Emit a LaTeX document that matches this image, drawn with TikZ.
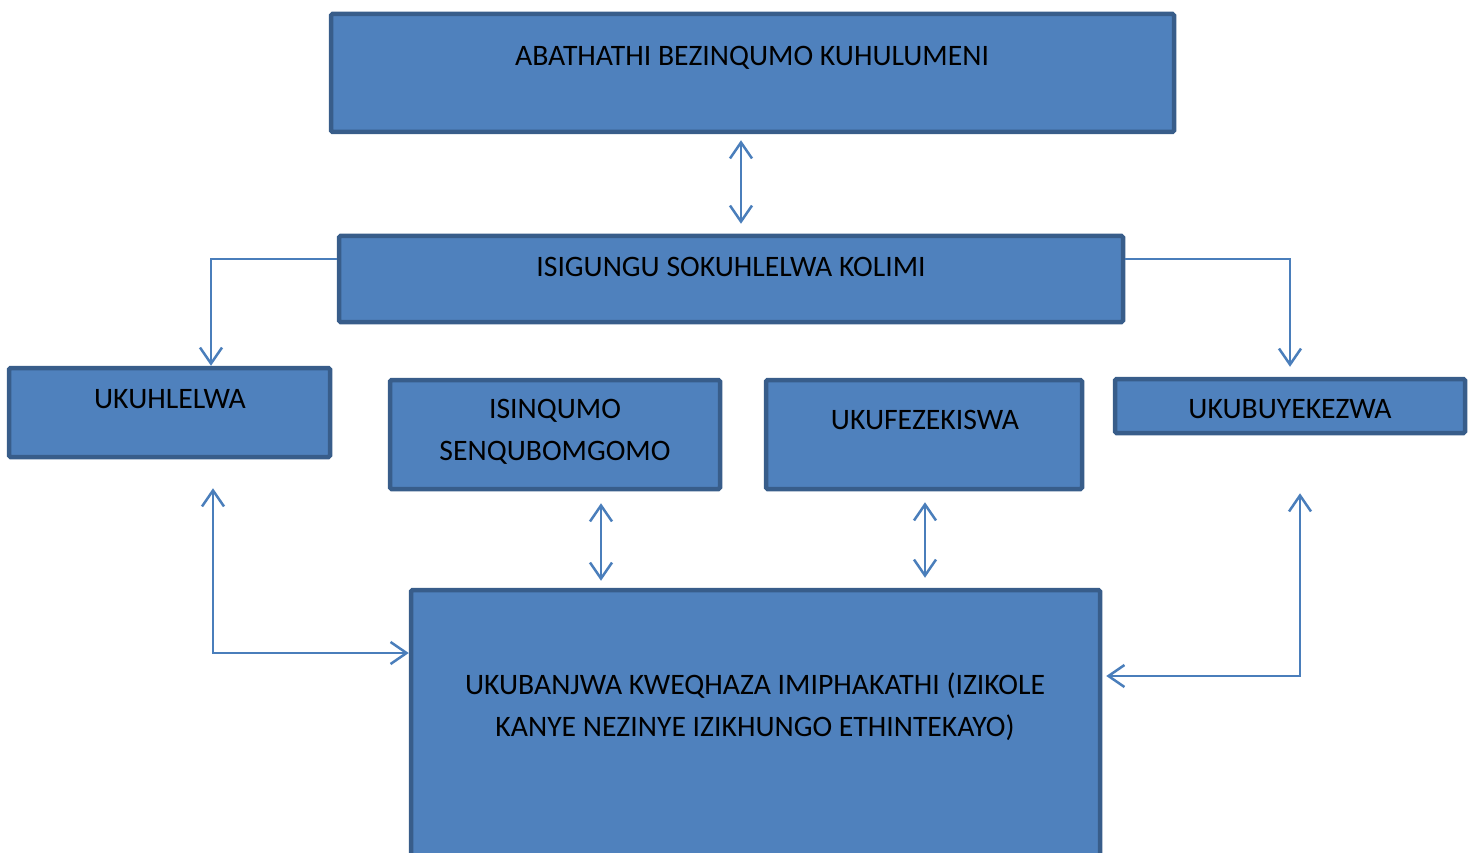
\documentclass[tikz,border=0pt]{standalone}
\usepackage{fontspec}
\setmainfont{Carlito}
\usetikzlibrary{arrows.meta,calc}
\definecolor{boxfill}{RGB}{79,129,189}
\definecolor{boxdraw}{RGB}{56,93,138}
\definecolor{linecol}{RGB}{74,126,187}
\tikzset{
  box/.style={draw=boxdraw,fill=boxfill,line width=4.5pt,rounded corners=1.5pt,inner sep=0pt},
  lbl/.style={font=\fontsize{29.7}{42}\selectfont,text=black,align=center,inner sep=0pt},
  conn/.style={draw=linecol,line width=2.5pt,
    arrows={->[/tikz/fill=none]},
    >={Straight Barb[length=16pt,width=22pt,line width=2.5pt]}},
  twoway/.style={conn,<->},
}
\begin{document}
\begin{tikzpicture}[x=1pt,y=-1pt]
\useasboundingbox (0,0) rectangle (1475,853);
\clip (0,0) rectangle (1475,853);
% boxes
\node[box,minimum width=843pt,minimum height=118pt] (top) at (752.5,73) {};
\node[box,minimum width=784pt,minimum height=86pt] (mid) at (731,279) {};
\node[box,minimum width=321pt,minimum height=89pt] (ukuh) at (169.5,412.5) {};
\node[box,minimum width=330pt,minimum height=109pt] (isin) at (555,434.5) {};
\node[box,minimum width=316pt,minimum height=109pt] (ukuf) at (924,434.5) {};
\node[box,minimum width=350pt,minimum height=54pt] (ukub) at (1290,406) {};
\node[box,minimum width=689pt,minimum height=310pt] (bot) at (755.5,745) {};
% labels
\node[lbl] (topt) at (752,58) {ABATHATHI BEZINQUMO KUHULUMENI};
\node[lbl] (midt) at (731,267) {ISIGUNGU SOKUHLELWA KOLIMI};
\node[lbl] (ukuht) at (170,399) {UKUHLELWA};
\node[lbl] (isint) at (555,432) {ISINQUMO\\SENQUBOMGOMO};
\node[lbl] (ukuft) at (925,420) {UKUFEZEKISWA};
\node[lbl] (ukubt) at (1290,409) {UKUBUYEKEZWA};
\node[lbl] (bott) at (755,707) {UKUBANJWA KWEQHAZA IMIPHAKATHI (IZIKOLE\\KANYE NEZINYE IZIKHUNGO ETHINTEKAYO)};
% connectors
\draw[twoway] ($(top.south)+(-11.5,6)$) -- ($(mid.north)+(10,-10)$);
\draw[conn,->] ($(mid.west)+(0,-20)$) -| ($(ukuh.north)+(41.5,0)$);
\draw[conn,->] ($(mid.east)+(0,-20)$) -| ($(ukub.north)+(0,-10)$);
\draw[twoway] ($(ukuh.south)+(43.5,29)$) |- ($(bot.west)+(0,-92)$);
\draw[twoway] ($(isin.south)+(46,12)$) -- ($(bot.north)+(-154.5,-7)$);
\draw[twoway] ($(ukuf.south)+(1,11)$) -- ($(bot.north)+(169.5,-10)$);
\draw[twoway] ($(ukub.south)+(10,58)$) |- ($(bot.east)+(4,-69)$);
\end{tikzpicture}
\end{document}
